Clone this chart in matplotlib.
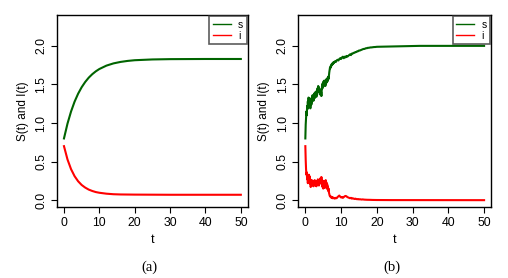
import numpy as np
import matplotlib
matplotlib.use("Agg")
import matplotlib.pyplot as plt

plt.rcParams['font.family'] = ['Liberation Sans', 'DejaVu Sans']

# panel (a): deterministic model
t_a = [0, 1, 2, 3, 4, 5, 6, 7, 8, 9, 10, 12, 14, 16, 18, 20, 25, 30, 40, 50]
s_a = [0.80, 0.993, 1.149, 1.277, 1.380, 1.464, 1.532, 1.588, 1.633, 1.670,
       1.700, 1.744, 1.773, 1.792, 1.805, 1.814, 1.824, 1.828, 1.830, 1.830]
i_a = [0.700, 0.527, 0.402, 0.311, 0.245, 0.197, 0.163, 0.137, 0.119, 0.105,
       0.096, 0.084, 0.077, 0.074, 0.073, 0.072, 0.071, 0.070, 0.070, 0.070]

# panel (b): stochastic model, time grid
t_b = np.concatenate([np.round(np.arange(0, 8.01, 0.1), 2),
                      np.arange(8.25, 20.01, 0.25),
                      np.arange(22, 50.1, 2)])

s_b = [0.80, 0.98, 1.08, 1.15, 1.10, 1.22, 1.18, 1.28, 1.20, 1.33,
       1.25, 1.32, 1.22, 1.28, 1.19, 1.25, 1.30, 1.24, 1.33, 1.28,
       1.36, 1.30, 1.35, 1.29, 1.37, 1.32, 1.39, 1.33, 1.40, 1.35,
       1.38, 1.34, 1.42, 1.37, 1.45, 1.40, 1.48, 1.42, 1.46, 1.40,
       1.44, 1.38, 1.43, 1.36, 1.40, 1.35, 1.44, 1.50, 1.45, 1.52,
       1.47, 1.54, 1.49, 1.55, 1.50, 1.53, 1.48, 1.55, 1.51, 1.57,
       1.53, 1.58, 1.54, 1.56, 1.60, 1.57, 1.62, 1.66, 1.69, 1.72,
       1.71, 1.74, 1.73, 1.76, 1.75, 1.77, 1.76, 1.78, 1.77, 1.79,
       1.78,
       1.80, 1.79, 1.81, 1.82, 1.81, 1.83, 1.84, 1.83, 1.85, 1.86,
       1.84, 1.86, 1.85, 1.87, 1.86, 1.87, 1.88, 1.89, 1.88, 1.90,
       1.90, 1.91, 1.91, 1.92, 1.92, 1.93, 1.93, 1.94, 1.94, 1.945,
       1.95, 1.955, 1.96, 1.96, 1.965, 1.97, 1.97, 1.975, 1.975, 1.978,
       1.98, 1.98, 1.982, 1.983, 1.985, 1.985, 1.987, 1.988,
       1.99, 1.993, 1.995, 1.997, 1.998, 2.0, 2.0, 2.0, 2.0, 2.0,
       2.0, 2.0, 2.0, 2.0, 2.0]

i_b = [0.70, 0.52, 0.40, 0.33, 0.36, 0.27, 0.31, 0.22, 0.30, 0.24,
       0.33, 0.26, 0.31, 0.21, 0.27, 0.17, 0.24, 0.20, 0.26, 0.21,
       0.25, 0.19, 0.24, 0.18, 0.23, 0.20, 0.26, 0.21, 0.25, 0.19,
       0.23, 0.18, 0.22, 0.25, 0.20, 0.27, 0.22, 0.26, 0.19, 0.24,
       0.21, 0.27, 0.23, 0.29, 0.24, 0.30, 0.22, 0.26, 0.17, 0.23,
       0.15, 0.21, 0.25, 0.18, 0.24, 0.16, 0.22, 0.26, 0.19, 0.23,
       0.17, 0.21, 0.14, 0.18, 0.12, 0.15, 0.10, 0.08, 0.06, 0.05,
       0.045, 0.05, 0.035, 0.04, 0.03, 0.04, 0.025, 0.035, 0.03, 0.025,
       0.03,
       0.02, 0.03, 0.025, 0.04, 0.05, 0.06, 0.045, 0.035, 0.04, 0.03,
       0.04, 0.05, 0.055, 0.05, 0.04, 0.035, 0.03, 0.025, 0.03, 0.02,
       0.025, 0.02, 0.015, 0.02, 0.015, 0.012, 0.015, 0.01, 0.012, 0.01,
       0.008, 0.01, 0.008, 0.007, 0.006, 0.006, 0.005, 0.005, 0.004, 0.004,
       0.004, 0.003, 0.003, 0.003, 0.003, 0.002, 0.002, 0.002,
       0.001, 0.001, 0.001, 0.001, 0.0, 0.0, 0.0, 0.0, 0.0, 0.0,
       0.0, 0.0, 0.0, 0.0, 0.0]

GREEN = '#006400'
RED = '#ff0000'

fig = plt.figure(figsize=(5.08, 2.78), dpi=100)
ax_a = fig.add_axes([0.112, 0.255, 0.376, 0.691])
ax_b = fig.add_axes([0.587, 0.255, 0.380, 0.691])

panels = [(ax_a, t_a, s_a, i_a, '(a)'), (ax_b, t_b, s_b, i_b, '(b)')]
for ax, t, s, i, cap in panels:
    ax.plot(t, s, color=GREEN, lw=1.5, label='s')
    ax.plot(t, i, color=RED, lw=1.5, label='i')
    ax.set_xlim(-2, 52)
    ax.set_ylim(-0.09, 2.4)
    ax.set_xticks([0, 10, 20, 30, 40, 50])
    ax.set_yticks([0.0, 0.5, 1.0, 1.5, 2.0])
    ax.set_yticklabels(['0.0', '0.5', '1.0', '1.5', '2.0'], rotation=90, va='center')
    ax.tick_params(direction='out', length=4.3, width=0.8, labelsize=8.8, pad=2.5)
    for sp in ax.spines.values():
        sp.set_linewidth(1.0)
    ax.set_xlabel('t', fontsize=9, labelpad=4)
    ax.set_ylabel('S(t) and I(t)', fontsize=8.5, labelpad=5)
    leg = ax.legend(loc='upper right', fontsize=7.5, frameon=True, fancybox=False,
                    borderaxespad=0.1, handlelength=1.7, handletextpad=0.7,
                    borderpad=0.35, labelspacing=0.1)
    leg.get_frame().set_edgecolor('#333333')
    leg.get_frame().set_linewidth(1.2)
    for line in leg.get_lines():
        line.set_linewidth(1.0)
    bb = ax.get_position()
    fig.text((bb.x0 + bb.x1) / 2 - 0.005, 0.04, cap, ha='center', va='center',
             fontsize=10.5, family=['Liberation Serif', 'DejaVu Serif'])

fig.savefig('out.png', dpi=100)
